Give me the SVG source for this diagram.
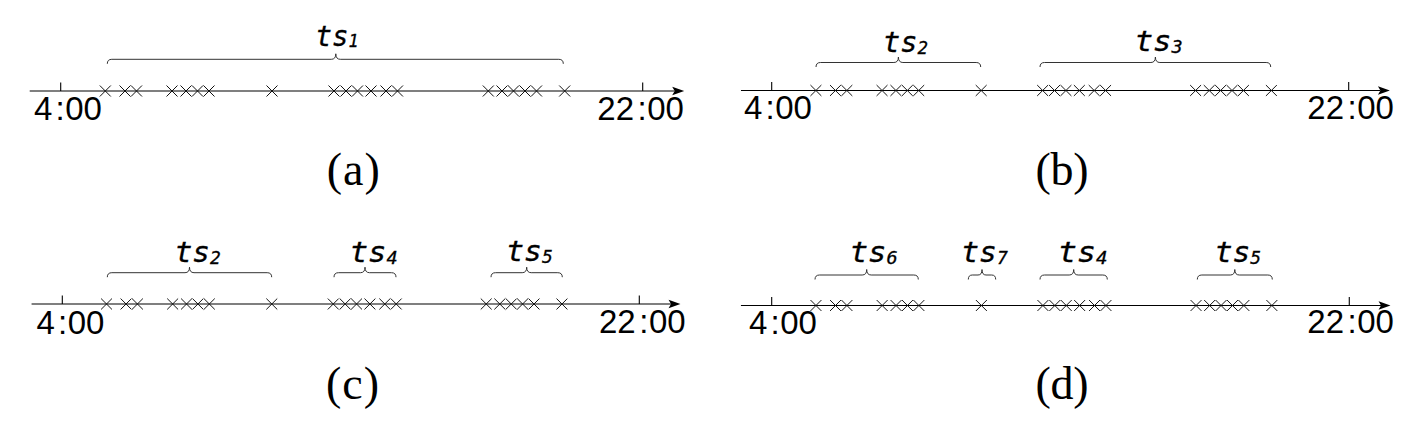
<svg xmlns="http://www.w3.org/2000/svg" xmlns:xlink="http://www.w3.org/1999/xlink" width="1412" height="426" viewBox="0 0 1412 426">
<style>
.axis{stroke:#000;stroke-width:1.2;fill:none}
.tick{stroke:#000;stroke-width:1.1;fill:none}
.arrow{fill:#000;stroke:none}
.cross{stroke:#111;stroke-width:1;fill:none}
.brace{stroke:#333;stroke-width:1;fill:none}
.ts{font-family:"DejaVu Sans Mono","Liberation Mono",monospace;font-style:italic;font-size:28px;fill:#000;stroke:#000;stroke-width:0.3}
.sub{font-size:17px}
.time{font-family:"Liberation Sans","DejaVu Sans",sans-serif;font-size:33px;fill:#000}
.cap{font-family:"Liberation Serif","DejaVu Serif",serif;font-size:46px;fill:#000;text-anchor:middle}
</style>
<defs>
<g id="axis">
<path class="axis" d="M-31,0 H614"/>
<path class="arrow" d="M623.5,0 L611.5,-4.2 L614,0 L611.5,4.2 Z"/>
<path class="tick" d="M0,-8.5 V0 M582,-8.5 V0"/>
<path class="cross" d="M39.1,-5.5l11,11m0,-11l-11,11 M58.8,-5.5l11,11m0,-11l-11,11 M70.3,-5.5l11,11m0,-11l-11,11 M105.8,-5.5l11,11m0,-11l-11,11 M119.8,-5.5l11,11m0,-11l-11,11 M131.3,-5.5l11,11m0,-11l-11,11 M142.8,-5.5l11,11m0,-11l-11,11 M205.8,-5.5l11,11m0,-11l-11,11 M267.8,-5.5l11,11m0,-11l-11,11 M279.8,-5.5l11,11m0,-11l-11,11 M291.3,-5.5l11,11m0,-11l-11,11 M304.8,-5.5l11,11m0,-11l-11,11 M319.8,-5.5l11,11m0,-11l-11,11 M331.3,-5.5l11,11m0,-11l-11,11 M422.1,-5.5l11,11m0,-11l-11,11 M435.8,-5.5l11,11m0,-11l-11,11 M447.3,-5.5l11,11m0,-11l-11,11 M458.8,-5.5l11,11m0,-11l-11,11 M470.3,-5.5l11,11m0,-11l-11,11 M498.5,-5.5l11,11m0,-11l-11,11"/>
</g>
</defs>

<g id="panel-a">
<use href="#axis" xlink:href="#axis" transform="translate(60.7,91)"/>
<g id="braces-a">
<path class="brace" d="M107.3,63.8 Q107.3,59.3 111.8,59.3 H331.3 Q335.8,59.3 335.8,53.8 Q335.8,59.3 340.3,59.3 H558.8 Q563.3,59.3 563.3,63.8"/>
</g>
<text class="ts" x="315.5" y="46" textLength="43" lengthAdjust="spacingAndGlyphs">ts<tspan class="sub" dy="0.5">1</tspan></text>
<text class="time" x="34" y="119.7">4<tspan dx="3.2">:</tspan><tspan dx="0.5">00</tspan></text>
<text class="time" x="597.3" y="119.5">22<tspan dx="3.6">:</tspan><tspan dx="0.4">00</tspan></text>
<text class="cap" x="353.3" y="185" textLength="53" lengthAdjust="spacing">(a)</text>
</g>

<g id="panel-b">
<use href="#axis" xlink:href="#axis" transform="translate(771.7,90.5) scale(0.9914)"/>
<g id="braces-b">
<path class="brace" d="M816,67 Q816,62.5 820.5,62.5 H893.9 Q898.4,62.5 898.4,57 Q898.4,62.5 902.9,62.5 H976.2 Q980.7,62.5 980.7,67"/>
<path class="brace" d="M1040,67 Q1040,62.5 1044.5,62.5 H1150.9 Q1155.4,62.5 1155.4,57 Q1155.4,62.5 1159.9,62.5 H1266.2 Q1270.7,62.5 1270.7,67"/>
</g>
<text class="ts" x="883" y="51.5" textLength="45" lengthAdjust="spacingAndGlyphs">ts<tspan class="sub" dy="2">2</tspan></text>
<text class="ts" x="1134.7" y="51" textLength="48" lengthAdjust="spacingAndGlyphs">ts<tspan class="sub" dy="2">3</tspan></text>
<text class="time" x="744" y="118.5">4<tspan dx="3.2">:</tspan><tspan dx="0.5">00</tspan></text>
<text class="time" x="1307.3" y="118.5">22<tspan dx="3.6">:</tspan><tspan dx="0.4">00</tspan></text>
<text class="cap" x="1062" y="185" textLength="53" lengthAdjust="spacing">(b)</text>
</g>

<g id="panel-c">
<use href="#axis" xlink:href="#axis" transform="translate(62.3,304) scale(0.9914)"/>
<g id="braces-c">
<path class="brace" d="M107.3,277.2 Q107.3,272.7 111.8,272.7 H185 Q189.5,272.7 189.5,267.2 Q189.5,272.7 194,272.7 H267.2 Q271.7,272.7 271.7,277.2"/>
<path class="brace" d="M334,277.2 Q334,272.7 338.5,272.7 H360.5 Q365,272.7 365,267.2 Q365,272.7 369.5,272.7 H391.5 Q396,272.7 396,277.2"/>
<path class="brace" d="M491,277.2 Q491,272.7 495.5,272.7 H522.2 Q526.7,272.7 526.7,267.2 Q526.7,272.7 531.2,272.7 H557.8 Q562.3,272.7 562.3,277.2"/>
</g>
<text class="ts" x="174.7" y="261.5" textLength="46" lengthAdjust="spacingAndGlyphs">ts<tspan class="sub" dy="2">2</tspan></text>
<text class="ts" x="349.7" y="261.5" textLength="48" lengthAdjust="spacingAndGlyphs">ts<tspan class="sub" dy="2">4</tspan></text>
<text class="ts" x="506.3" y="260.5" textLength="46.5" lengthAdjust="spacingAndGlyphs">ts<tspan class="sub" dy="2">5</tspan></text>
<text class="time" x="36.5" y="333.5">4<tspan dx="3.2">:</tspan><tspan dx="0.5">00</tspan></text>
<text class="time" x="599" y="332.5">22<tspan dx="3.6">:</tspan><tspan dx="0.4">00</tspan></text>
<text class="cap" x="352.5" y="398.5" textLength="53" lengthAdjust="spacing">(c)</text>
</g>

<g id="panel-d">
<use href="#axis" xlink:href="#axis" transform="translate(771.7,305.5) scale(0.9924)"/>
<g id="braces-d">
<path class="brace" d="M815,279.5 Q815,275 819.5,275 H862.2 Q866.7,275 866.7,269.5 Q866.7,275 871.2,275 H913.8 Q918.3,275 918.3,279.5"/>
<path class="brace" d="M968.3,279.5 Q968.3,275 972.3,275 H978 Q982,275 982,269.5 Q982,275 986,275 H991.7 Q995.7,275 995.7,279.5"/>
<path class="brace" d="M1040,279.5 Q1040,275 1044.5,275 H1069.2 Q1073.7,275 1073.7,269.5 Q1073.7,275 1078.2,275 H1102.8 Q1107.3,275 1107.3,279.5"/>
<path class="brace" d="M1197.3,279.5 Q1197.3,275 1201.8,275 H1230.3 Q1234.8,275 1234.8,269.5 Q1234.8,275 1239.3,275 H1267.8 Q1272.3,275 1272.3,279.5"/>
</g>
<text class="ts" x="849.7" y="261.5" textLength="48" lengthAdjust="spacingAndGlyphs">ts<tspan class="sub" dy="2">6</tspan></text>
<text class="ts" x="961.3" y="261.5" textLength="46.5" lengthAdjust="spacingAndGlyphs">ts<tspan class="sub" dy="2">7</tspan></text>
<text class="ts" x="1058" y="261.5" textLength="49.5" lengthAdjust="spacingAndGlyphs">ts<tspan class="sub" dy="2">4</tspan></text>
<text class="ts" x="1214.7" y="261.5" textLength="46.5" lengthAdjust="spacingAndGlyphs">ts<tspan class="sub" dy="2">5</tspan></text>
<text class="time" x="749" y="333.5">4<tspan dx="3.2">:</tspan><tspan dx="0.5">00</tspan></text>
<text class="time" x="1307.3" y="332.5">22<tspan dx="3.6">:</tspan><tspan dx="0.4">00</tspan></text>
<text class="cap" x="1062" y="399" textLength="53" lengthAdjust="spacing">(d)</text>
</g>
</svg>
